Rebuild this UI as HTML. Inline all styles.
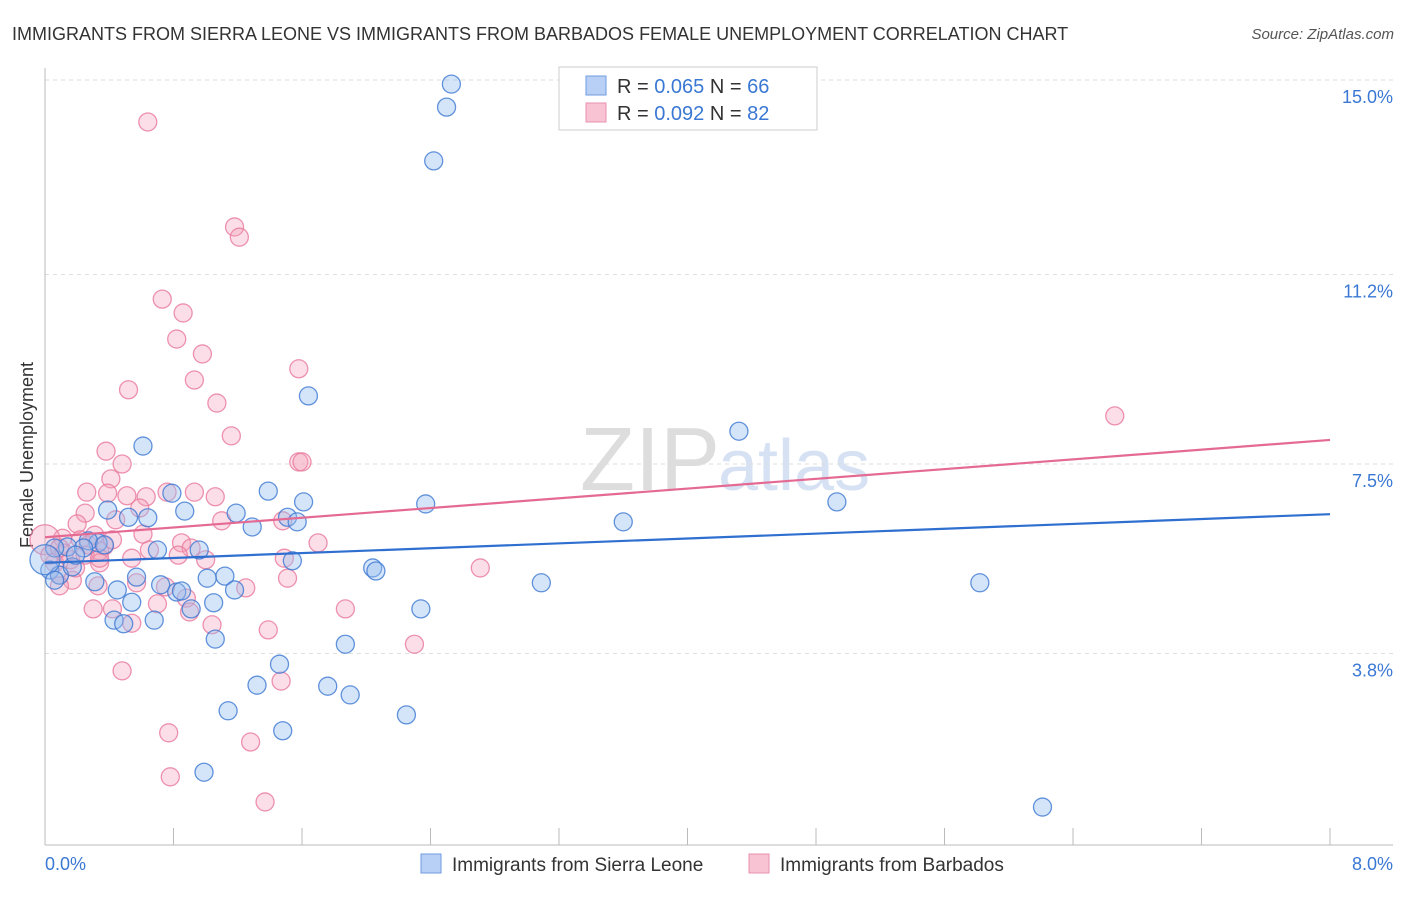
<!DOCTYPE html>
<html><head><meta charset="utf-8"><style>
body{margin:0;background:#fff;font-family:"Liberation Sans",sans-serif}
svg text{font-family:"Liberation Sans",sans-serif}
</style></head><body>
<svg width="1406" height="892" viewBox="0 0 1406 892" id="chart">
<text x="12" y="40" font-size="18" fill="#333">IMMIGRANTS FROM SIERRA LEONE VS IMMIGRANTS FROM BARBADOS FEMALE UNEMPLOYMENT CORRELATION CHART</text>
<text x="1394" y="39" font-size="15" fill="#555" text-anchor="end" font-style="italic">Source: ZipAtlas.com</text>
<text x="720" y="490" font-size="90" fill="#ddd" text-anchor="end" font-family="Liberation Serif">ZIP</text>
<text x="718" y="490" font-size="72" fill="#d6e2f3">atlas</text>
<text transform="translate(33,455) rotate(-90)" font-size="18" fill="#333" text-anchor="middle">Female Unemployment</text>
<g id="grid"></g><g id="axes"></g><g id="pts"></g><g id="lines"></g>
<g>
<rect x="559" y="67" width="258" height="63" fill="#fff" stroke="#ccc"/>
<rect x="586" y="76" width="20" height="19" fill="#b8d0f5" stroke="#6f9be0"/>
<text x="617" y="93" font-size="20" fill="#333">R = <tspan fill="#3a78d4">0.065</tspan>   N = <tspan fill="#3a78d4">66</tspan></text>
<rect x="586" y="103" width="20" height="19" fill="#f8c4d4" stroke="#e890ad"/>
<text x="617" y="120" font-size="20" fill="#333">R = <tspan fill="#3a78d4">0.092</tspan>   N = <tspan fill="#3a78d4">82</tspan></text>
</g>
<g>
<rect x="421" y="854" width="20" height="19" fill="#b8d0f5" stroke="#6f9be0"/>
<text x="452" y="871" font-size="19" fill="#333">Immigrants from Sierra Leone</text>
<rect x="749" y="854" width="20" height="19" fill="#f8c4d4" stroke="#e890ad"/>
<text x="780" y="871" font-size="19" fill="#333">Immigrants from Barbados</text>
</g>
<text x="45" y="870" font-size="18" fill="#3a78d4">0.0%</text>
<text x="1393" y="870" font-size="18" fill="#3a78d4" text-anchor="end">8.0%</text>
</svg>
<script>
const yTicks=[15.0,11.2,7.5,3.8];
const yTickLabels=["15.0%","11.2%","7.5%","3.8%"];
const blueX=[2.53,2.50,2.42,1.64,0.61,4.32,1.39,0.79,1.61,2.37,4.93,0.39,0.87,1.19,0.64,0.52,1.51,1.57,1.29,3.60,1.54,0.70,0.96,0.33,0.27,0.14,0.06,0.03,0.09,0.17,0.24,2.04,2.06,0.57,1.01,1.12,0.31,0.45,0.72,0.82,0.85,1.18,1.05,0.91,0.54,0.43,0.49,0.68,2.34,3.09,5.82,1.06,1.87,1.46,1.32,1.76,1.90,1.14,2.25,1.48,0.99,6.21,0.0,0.19,0.37,0.06];
const blueY=[14.92,14.47,13.42,8.83,7.85,8.14,6.97,6.93,6.76,6.72,6.76,6.60,6.58,6.54,6.45,6.46,6.46,6.37,6.27,6.37,5.61,5.82,5.82,5.96,6.00,5.88,5.86,5.43,5.33,5.49,5.86,5.47,5.41,5.29,5.27,5.31,5.20,5.04,5.14,5.00,5.02,5.04,4.79,4.67,4.80,4.45,4.38,4.45,4.67,5.18,5.18,4.08,3.98,3.59,3.18,3.16,2.99,2.68,2.60,2.29,1.48,0.80,5.63,5.72,5.92,5.23];
const pinkX=[0.64,1.18,1.21,0.73,0.86,0.82,0.98,1.58,0.93,0.52,1.07,6.66,1.16,0.38,0.48,1.58,1.60,0.41,0.26,0.39,0.51,0.63,0.76,0.93,1.06,0.25,0.59,0.44,0.20,1.10,1.48,0.11,0.22,0.37,0.61,0.85,0.91,1.70,0.34,0.54,1.00,1.49,2.71,0.06,0.16,0.27,0.34,0.09,0.17,0.09,0.33,0.57,1.51,1.25,0.75,0.88,0.30,0.42,0.70,0.90,1.87,1.04,0.54,1.39,2.30,0.48,1.47,0.77,1.28,0.78,1.37,0.0,0.03,0.12,0.19,0.25,0.34,0.42,0.31,0.65,0.09,0.83];
const pinkY=[14.18,12.13,11.93,10.72,10.45,9.94,9.65,9.36,9.14,8.95,8.69,8.44,8.05,7.75,7.50,7.54,7.54,7.21,6.95,6.93,6.88,6.86,6.95,6.95,6.86,6.54,6.64,6.41,6.33,6.39,6.39,6.05,6.02,5.90,6.13,5.96,5.86,5.96,5.80,5.66,5.63,5.66,5.47,5.57,5.63,5.92,5.57,5.33,5.23,5.12,5.12,5.18,5.27,5.08,5.10,4.88,4.67,4.67,4.77,4.61,4.67,4.36,4.39,4.26,3.98,3.46,3.26,2.25,2.07,1.39,0.90,6.02,5.72,5.76,5.47,5.72,5.66,6.02,6.11,5.82,5.86,5.72];
const blueFit=[5.57,6.52];
const pinkFit=[6.07,7.97];
const NS="http://www.w3.org/2000/svg";
const X0=45,X1=1330,XMAX=8,YB=848,PY=51.2;
function sx(v){return X0+(X1-X0)*v/XMAX;}
function sy(v){return YB-v*PY;}
function mk(tag,attrs,parent){const e=document.createElementNS(NS,tag);for(const k in attrs)e.setAttribute(k,attrs[k]);parent.appendChild(e);return e;}
const grid=document.getElementById('grid'),axes=document.getElementById('axes'),pts=document.getElementById('pts'),lines=document.getElementById('lines');
yTicks.forEach((t,i)=>{
 const l=mk('line',{x1:X0,x2:1393,y1:sy(t),y2:sy(t),stroke:'#ddd','stroke-dasharray':'4,4'},grid);
 
 
 const tx=mk('text',{x:1393,y:sy(t)+23,'font-size':18,fill:'#3a78d4','text-anchor':'end'},grid);
 tx.textContent=yTickLabels[i];
 
 
});
const la=mk('line',{x1:X0,x2:X0,y1:68,y2:845,stroke:'#bbb'},axes);


const ba=mk('line',{x1:X0,x2:1393,y1:845,y2:845,stroke:'#bbb'},axes);


for(let i=0;i<=10;i++){const v=i*0.8;const t=mk('line',{x1:sx(v),x2:sx(v),y1:828,y2:845,stroke:'#bbb'},axes);
 
 }
function drawPts(xs,ys,fill,stroke,name){xs.forEach((x,i)=>{const r=(x<0.02)?15:9;
 const c=mk('circle',{cx:sx(x),cy:sy(ys[i]),r:r,fill:fill,stroke:stroke,'stroke-width':1.3},pts);
 
 });}
drawPts(pinkX,pinkY,'rgba(244,160,186,0.35)','rgba(232,120,156,0.8)','barbados-point');
drawPts(blueX,blueY,'rgba(150,190,240,0.4)','rgba(60,120,210,0.8)','sierra-leone-point');
const bl=mk('line',{x1:sx(0),x2:sx(8),y1:sy(blueFit[0]),y2:sy(blueFit[1]),stroke:'#2f6fd0','stroke-width':2.2},lines);


const pl=mk('line',{x1:sx(0),x2:sx(8),y1:sy(pinkFit[0]),y2:sy(pinkFit[1]),stroke:'#e46a93','stroke-width':2.2},lines);


</script>
</body></html>
